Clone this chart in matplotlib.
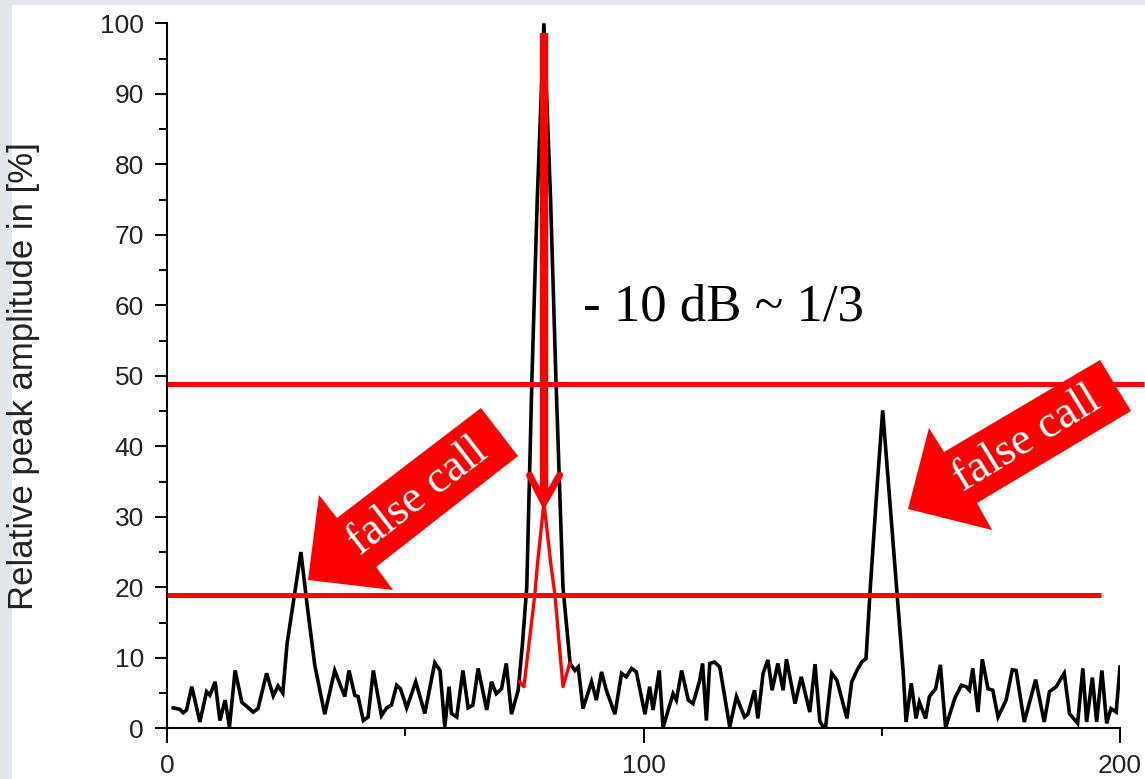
import matplotlib
matplotlib.use("Agg")
import matplotlib.pyplot as plt
from matplotlib.patches import Rectangle, Polygon
from matplotlib.ticker import MultipleLocator

# ---------------- data ----------------
signal_x = [1.3, 2.7, 3.4, 4.1, 5.2, 6.9, 8.3, 9.0, 10.1, 11.1, 12.2, 13.1, 14.3, 15.7, 17.1,
            18.1, 19.1, 20.9, 22.3, 23.3, 24.3, 25.2, 28.1, 29.5, 31.0, 33.1, 35.2, 37.3, 38.2,
            39.4, 40.1, 41.2, 42.2, 43.3, 45.0, 46.1, 47.1, 48.2, 49.0, 50.3, 52.2, 54.1, 56.2,
            57.3, 58.3, 59.2, 59.7, 60.8, 62.1, 63.2, 64.2, 65.3, 67.1, 68.1, 69.1, 70.2, 71.2,
            72.3, 73.7, 74.6, 75.5, 76.6, 77.7, 79.1, 80.5, 81.6, 83.1, 84.6, 85.6, 86.3, 87.3,
            89.1, 90.1, 91.2, 92.2, 94.0, 95.4, 96.4, 97.5, 98.5, 100.3, 101.3, 102.0, 103.3,
            104.1, 106.2, 106.9, 108.0, 109.4, 110.4, 111.8, 112.4, 113.2, 113.9, 114.9, 116.0,
            118.1, 119.5, 121.2, 121.9, 123.3, 124.0, 125.1, 126.1, 127.0, 128.2, 129.3, 130.0,
            131.8, 133.1, 134.9, 136.0, 137.0, 137.7, 138.2, 139.5, 140.6, 142.7, 143.7, 144.8,
            145.8, 146.7, 147.6, 149.1, 150.2, 151.6, 153.2, 154.5, 155.1, 156.2, 157.2, 157.9,
            159.2, 160.0, 161.3, 162.3, 163.4, 165.3, 166.7, 167.7, 168.4, 169.1, 170.2, 171.1,
            172.3, 173.3, 174.4, 176.1, 177.4, 178.2, 179.9, 182.3, 184.1, 185.2, 186.6, 188.3,
            189.4, 191.1, 192.2, 193.0, 194.2, 195.1, 196.2, 197.2, 198.1, 199.2, 200.0]
signal_y = [2.9, 2.7, 2.2, 2.6, 5.9, 0.9, 5.2, 4.7, 6.6, 1.1, 4.0, 0.2, 8.2, 3.7, 2.9,
            2.3, 2.8, 7.8, 4.6, 6.0, 5.0, 12.0, 25.0, 17.0, 9.0, 2.0, 8.2, 4.5, 8.2,
            4.7, 4.5, 1.1, 1.6, 8.2, 1.8, 2.9, 3.3, 6.1, 5.6, 2.9, 6.6, 2.1, 9.3,
            8.2, 0.2, 5.9, 2.1, 1.6, 8.2, 2.9, 3.3, 8.5, 2.6, 6.6, 4.9, 5.6, 9.2,
            2.0, 5.4, 12.0, 20.0, 50.0, 75.0, 100.0, 75.0, 50.0, 20.0, 9.2, 8.2, 8.7, 2.8,
            6.6, 4.0, 8.0, 5.4, 2.0, 7.8, 7.3, 8.5, 8.0, 2.0, 5.9, 2.6, 8.2,
            0.1, 4.9, 4.0, 8.2, 4.0, 3.5, 6.8, 9.2, 1.1, 9.2, 9.4, 8.7,
            0.2, 4.5, 1.6, 2.0, 5.4, 1.4, 7.8, 9.7, 5.4, 9.2, 5.4, 9.8,
            3.5, 7.3, 2.3, 9.1, 1.0, 0.2, 0.1, 7.8, 6.8, 1.4, 6.6, 8.2,
            9.4, 9.9, 20.0, 35.0, 45.1, 33.0, 19.0, 8.0, 0.9, 6.4, 1.4, 3.7,
            1.4, 4.5, 5.6, 9.0, 0.1, 4.2, 6.1, 5.9, 5.4, 8.5, 2.3, 9.8,
            5.6, 5.4, 1.6, 4.0, 8.3, 8.2, 0.9, 6.9, 0.9, 5.2, 5.9, 7.8,
            2.1, 0.7, 8.5, 0.9, 7.2, 0.9, 8.2, 0.7, 2.8, 2.3, 8.7]

reduced_x = [74.0, 74.9, 77.2, 77.7, 79.1, 80.6, 81.4, 83.1, 84.5]
reduced_y = [6.6, 5.9, 19.0, 23.0, 32.0, 23.0, 19.0, 5.9, 9.2]

upper_threshold = 48.8
lower_threshold = 18.9
arrow_x = 79.1
arrow_top = 98.6
arrow_tip = 32.0

x_ticks = [0, 100, 200]
y_ticks = [0, 10, 20, 30, 40, 50, 60, 70, 80, 90, 100]

# ---------------- figure ----------------
W, H = 1145, 779
fig = plt.figure(figsize=(W / 100, H / 100), dpi=100)
fig.patch.set_facecolor('#e1e6ea')
fig.patches.append(Rectangle((12 / W, 0), 1 - 12 / W, 1 - 5 / H, transform=fig.transFigure,
                             facecolor='white', edgecolor='none', zorder=-10))

ax = fig.add_axes([167 / W, 1 - 728.3 / H, (1120 - 167) / W, (728.3 - 23.3) / H])
ax.set_facecolor('none')
ax.set_xlim(0, 200)
ax.set_ylim(0, 100)

for s in ['top', 'right']:
    ax.spines[s].set_visible(False)
for s in ['left', 'bottom']:
    ax.spines[s].set_linewidth(1.5)
    ax.spines[s].set_zorder(1)

sans = 'Liberation Sans'
serif = 'Liberation Serif'

ax.set_xticks(x_ticks)
ax.set_yticks(y_ticks)
ax.xaxis.set_minor_locator(MultipleLocator(50))
ax.yaxis.set_minor_locator(MultipleLocator(5))
ax.tick_params(axis='both', which='major', direction='out', width=1.4, labelsize=19,
               colors='black')
ax.tick_params(axis='y', which='major', length=8.6, pad=8)
ax.tick_params(axis='x', which='major', length=10.5, pad=8)
ax.tick_params(axis='both', which='minor', direction='out', width=1.4, length=5.5)
for lab in ax.get_xticklabels() + ax.get_yticklabels():
    lab.set_fontfamily(sans)
    lab.set_color('#222222')

ax.set_ylabel('Relative peak amplitude in [%]', fontsize=25, family=sans, color='#222222')
ax.yaxis.set_label_coords(-0.133, 0.5)

# curves
ax.plot(signal_x, signal_y, color='black', lw=2.6, zorder=3, solid_joinstyle='miter')
ax.plot(reduced_x, reduced_y, color='#ff0000', lw=2.4, zorder=4)

# threshold lines
ax.plot([0, 205], [upper_threshold, upper_threshold], color='#ff0000', lw=3.6, zorder=5,
        clip_on=False, solid_capstyle='butt')
ax.plot([0, 196.0], [lower_threshold, lower_threshold], color='#ff0000', lw=3.6, zorder=5,
        solid_capstyle='butt')

# vertical arrow
ax.plot([arrow_x, arrow_x], [arrow_top, arrow_tip + 1], color='#ff0000', lw=6, zorder=6,
        solid_capstyle='butt')
ax.plot([arrow_x - 3.0, arrow_x, arrow_x + 3.3], [arrow_tip + 3.9, arrow_tip, arrow_tip + 3.9],
        color='#ff0000', lw=5, zorder=6, solid_capstyle='round', solid_joinstyle='miter')

ax.text(87.3, 57.9, '- 10 dB ~ 1/3', fontsize=38, family=serif, color='black',
        ha='left', va='baseline', zorder=7)


def fpx(x, y):
    return (x / W, 1 - y / H)


left_arrow = [(481, 408), (518, 456), (376, 567), (393, 590), (308, 580), (319, 495), (337, 518)]
right_arrow = [(1100, 360), (1131, 411), (977, 503), (992, 530), (908, 509), (929, 428), (944, 452)]
for poly in (left_arrow, right_arrow):
    fig.patches.append(Polygon([fpx(*p) for p in poly], closed=True, transform=fig.transFigure,
                               facecolor='#ff0000', edgecolor='none', zorder=20))

fig.text(*fpx(418, 497), 'false call', rotation=37.7, rotation_mode='anchor', ha='center',
         va='center', fontsize=33, family=serif, color='white', zorder=21)
fig.text(*fpx(1027, 440), 'false call', rotation=31.5, rotation_mode='anchor', ha='center',
         va='center', fontsize=33, family=serif, color='white', zorder=21)

fig.savefig('out.png', dpi=100, facecolor=fig.get_facecolor())
